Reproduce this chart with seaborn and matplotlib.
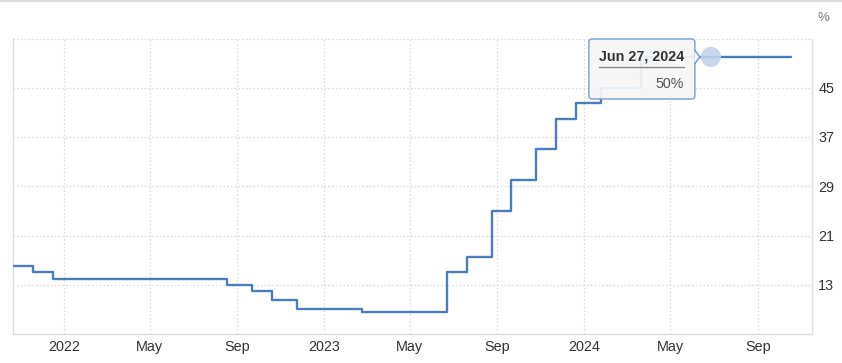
import matplotlib
matplotlib.use("Agg")
import matplotlib.pyplot as plt
import matplotlib.dates as mdates
import matplotlib.transforms as mtransforms
from matplotlib.patches import FancyBboxPatch, Polygon
from matplotlib.lines import Line2D
import seaborn as sns
import pandas as pd

# ---- data ----
change_dates = ['2021-10-21', '2021-11-18', '2021-12-16', '2022-08-18', '2022-09-22',
                '2022-10-20', '2022-11-24', '2023-02-23', '2023-06-22', '2023-07-20',
                '2023-08-24', '2023-09-21', '2023-10-26', '2023-11-23', '2023-12-21',
                '2024-01-25', '2024-03-21', '2024-10-18']
rates = [16, 15, 14, 13, 12, 10.5, 9, 8.5, 15, 17.5, 25, 30, 35, 40, 42.5, 45, 50, 50]

x_tick_dates = ['2022-01-01', '2022-05-01', '2022-09-01', '2023-01-01', '2023-05-01',
                '2023-09-01', '2024-01-01', '2024-05-01', '2024-09-01']
x_tick_labels = ['2022', 'May', 'Sep', '2023', 'May', 'Sep', '2024', 'May', 'Sep']
y_ticks = [13, 21, 29, 37, 45, 53]
y_tick_labels = ['13', '21', '29', '37', '45', '']

tooltip_date = '2024-06-27'
tooltip_value = 50
tooltip_title = 'Jun 27, 2024'
tooltip_text = '50%'

df = pd.DataFrame({'date': pd.to_datetime(change_dates), 'rate': rates})

# ---- figure ----
sns.set_style('white')
plt.rcParams['font.family'] = ['Liberation Sans', 'DejaVu Sans']

W, H = 842, 363
fig = plt.figure(figsize=(W / 100, H / 100), dpi=100)
ax = fig.add_axes([13 / W, (H - 334) / H, (812 - 13) / W, (334 - 38.5) / H])

line_color = '#4a7dbd'
sns.lineplot(data=df, x='date', y='rate', ax=ax, color=line_color, linewidth=1.7,
             drawstyle='steps-post', zorder=3)

ax.set_xlim(pd.Timestamp('2021-10-21'), pd.Timestamp('2024-11-16'))
ax.set_ylim(5, 53)

ax.set_xticks(pd.to_datetime(x_tick_dates))
ax.set_xticklabels(x_tick_labels)
ax.set_yticks(y_ticks)
ax.set_yticklabels(y_tick_labels)
ax.yaxis.tick_right()
ax.set_xlabel('')
ax.set_ylabel('')

ax.tick_params(axis='both', length=0, labelsize=10.4, labelcolor='#333333')
ax.tick_params(axis='x', pad=4.5)
ax.tick_params(axis='y', pad=4.5)

ax.grid(True, linestyle=(0, (1.2, 1.8)), color='#d9d9d9', linewidth=0.9)
ax.set_axisbelow(True)

for side in ['top']:
    ax.spines[side].set_visible(False)
for side in ['left', 'bottom', 'right']:
    ax.spines[side].set_visible(True)
    ax.spines[side].set_color('#dddddd')
    ax.spines[side].set_linewidth(1.0)

# top border of the widget
fig.add_artist(Line2D([0, 1], [1 - 1 / H, 1 - 1 / H], transform=fig.transFigure,
                      color='#dddddd', linewidth=1.5))

# unit label
fig.text(823 / W, 1 - 18 / H, '%', ha='center', va='center', fontsize=9.5, color='#777777')

# ---- tooltip ----
td = pd.Timestamp(tooltip_date)
ax.scatter([td], [tooltip_value], s=210, color='#c3d2ea', alpha=0.9, zorder=4,
           edgecolors='none')

trans = fig.dpi_scale_trans + mtransforms.ScaledTranslation(
    mdates.date2num(td), tooltip_value, ax.transData)

box_fc = '#f6f6f6'
box_ec = '#6c95cc'
box = FancyBboxPatch((-1.22, -0.42), 1.06, 0.60,
                     boxstyle='round,pad=0,rounding_size=0.03',
                     transform=trans, fc=box_fc, ec=box_ec, lw=1.0, alpha=0.92,
                     zorder=5, clip_on=False)
ax.add_patch(box)
tri = Polygon([(-0.165, 0.065), (-0.11, 0.0), (-0.165, -0.065)], closed=True,
              transform=trans, fc=box_fc, ec='none', zorder=6, clip_on=False)
ax.add_patch(tri)
ax.add_line(Line2D([-0.16, -0.11, -0.16], [0.065, 0.0, -0.065], transform=trans,
                   color=box_ec, lw=1.0, zorder=6, clip_on=False))

ax.text(-0.695, 0.0, tooltip_title, transform=trans, ha='center', va='center',
        fontsize=10.3, fontweight='bold', color='#333333', zorder=7)
ax.add_line(Line2D([-1.12, -0.27], [-0.10, -0.10], transform=trans,
                   color='#888888', lw=1.0, zorder=7, clip_on=False))
ax.text(-0.27, -0.27, tooltip_text, transform=trans, ha='right', va='center',
        fontsize=10.3, color='#555555', zorder=7)

fig.savefig('out.png', dpi=100, facecolor='white')
